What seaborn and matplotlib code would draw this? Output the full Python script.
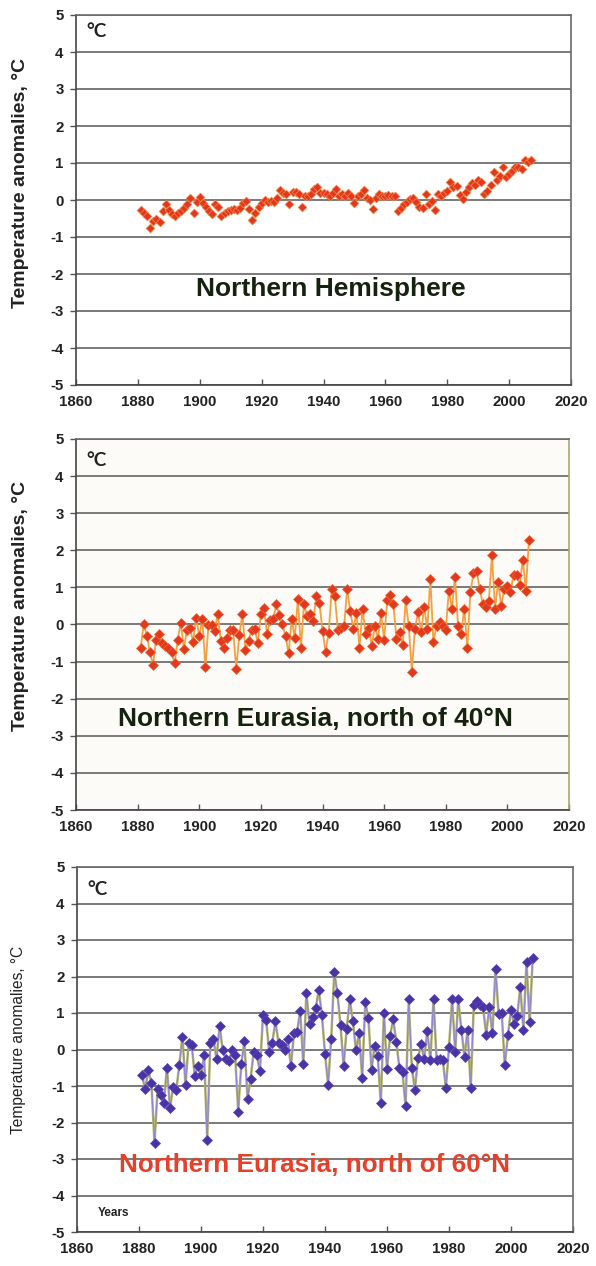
import matplotlib
matplotlib.use("Agg")
import matplotlib.pyplot as plt
import seaborn as sns
import pandas as pd

years = list(range(1881, 2008))

nh = [-0.27, -0.34, -0.42, -0.75, -0.56, -0.50, -0.60, -0.30, -0.12, -0.27,
      -0.38, -0.42, -0.36, -0.30, -0.22, -0.12, 0.05, -0.34, -0.05, 0.08,
      -0.08, -0.20, -0.30, -0.38, -0.12, -0.18, -0.42, -0.34, -0.30, -0.28,
      -0.24, -0.28, -0.22, -0.08, -0.03, -0.24, -0.54, -0.36, -0.18, -0.08,
      0.00, -0.06, -0.02, -0.05, 0.05, 0.28, 0.18, 0.15, -0.12, 0.22,
      0.22, 0.15, -0.20, 0.12, 0.10, 0.15, 0.30, 0.35, 0.20, 0.18,
      0.15, 0.12, 0.20, 0.30, 0.10, 0.15, 0.12, 0.18, 0.10, -0.08,
      0.10, 0.15, 0.28, 0.05, 0.00, -0.25, 0.05, 0.15, 0.12, 0.12,
      0.14, 0.12, 0.10, -0.30, -0.22, -0.10, -0.05, 0.02, 0.05, -0.05,
      -0.20, -0.22, 0.15, -0.10, -0.02, -0.27, 0.15, 0.10, 0.20, 0.25,
      0.48, 0.35, 0.38, 0.14, 0.02, 0.22, 0.35, 0.45, 0.40, 0.55,
      0.48, 0.15, 0.25, 0.40, 0.75, 0.55, 0.65, 0.90, 0.62, 0.70,
      0.78, 0.88, 0.90, 0.85, 1.08, 1.02, 1.08]

eur40 = [-0.62, 0.02, -0.32, -0.75, -1.09, -0.41, -0.25, -0.50, -0.59, -0.64,
         -0.75, -1.05, -0.41, 0.05, -0.65, -0.14, -0.09, -0.47, 0.18, -0.32,
         0.16, -1.15, -0.02, -0.02, -0.18, 0.29, -0.44, -0.64, -0.36, -0.16,
         -0.16, -1.20, -0.27, 0.27, -0.68, -0.44, -0.14, -0.12, -0.50, 0.29,
         0.44, -0.25, 0.11, 0.14, 0.55, 0.25, 0.00, -0.32, -0.77, 0.14,
         -0.36, 0.68, -0.62, 0.55, 0.23, 0.27, 0.09, 0.77, 0.59, -0.18,
         -0.73, -0.23, 0.96, 0.76, -0.15, -0.09, -0.05, 0.95, 0.36, -0.12,
         0.31, -0.62, 0.43, -0.25, -0.09, -0.57, -0.03, -0.39, 0.31, -0.42,
         0.65, 0.79, 0.55, -0.39, -0.21, -0.55, 0.65, -0.05, -1.27, -0.12,
         0.34, -0.21, 0.47, -0.12, 1.22, -0.48, -0.03, 0.06, -0.05, -0.15,
         0.91, 0.43, 1.29, -0.05, -0.25, 0.43, -0.62, 0.88, 1.38, 1.45,
         0.97, 0.56, 0.47, 0.64, 1.88, 0.43, 1.15, 0.49, 0.97, 1.04,
         0.88, 1.34, 1.34, 1.06, 1.75, 0.91, 2.29]

eur60 = [-0.71, -1.09, -0.57, -0.91, -2.56, -1.07, -1.24, -1.46, -0.50, -1.60,
         -1.03, -1.12, -0.43, 0.35, -0.96, 0.17, 0.12, -0.73, -0.45, -0.71,
         -0.16, -2.47, 0.19, 0.28, -0.25, 0.65, -0.02, -0.25, -0.32, -0.02,
         -0.14, -1.70, -0.41, 0.23, -1.35, -0.80, -0.06, -0.14, -0.60, 0.95,
         0.81, -0.06, 0.19, 0.77, 0.19, 0.12, -0.02, 0.28, -0.45, 0.44,
         0.49, 1.05, -0.41, 1.54, 0.69, 0.90, 1.13, 1.63, 0.94, -0.11,
         -0.96, 0.28, 2.12, 1.54, 0.67, -0.45, 0.57, 1.37, 0.77, -0.02,
         0.44, -0.77, 1.30, 0.86, -0.56, 0.10, -0.17, -1.47, 1.01, -0.54,
         0.37, 0.83, 0.21, -0.50, -0.63, -1.56, 1.37, -0.50, -1.11, -0.23,
         0.14, -0.26, 0.50, -0.29, 1.37, -0.29, -0.25, -0.29, -1.06, 0.07,
         1.37, -0.06, 1.37, 0.53, -0.20, 0.53, -1.06, 1.23, 1.32, 1.23,
         1.16, 0.41, 1.16, 0.44, 2.21, 0.98, 1.01, -0.43, 0.39, 1.07,
         0.71, 0.92, 1.71, 0.53, 2.39, 0.74, 2.50]

x_ticks = list(range(1860, 2021, 20))
y_ticks = list(range(-5, 6))
titles = ["Northern Hemisphere", "Northern Eurasia, north of 40°N",
          "Northern Eurasia, north of 60°N"]
ylabel = "Temperature anomalies, °C"

sns.set_style("white")
plt.rcParams['font.family'] = ['Liberation Sans', 'DejaVu Sans']

W, H = 596, 1266
fig = plt.figure(figsize=(W / 100, H / 100), dpi=100)


def make_ax(left, right, top, bottom, bg):
    ax = fig.add_axes([left / W, 1 - bottom / H, (right - left) / W, (bottom - top) / H])
    ax.set_facecolor(bg)
    return ax


ax1 = make_ax(76, 571, 15, 385, "white")
ax2 = make_ax(76, 569, 439, 810, "#FCFBF7")
ax3 = make_ax(77, 573, 867, 1232, "white")

df = pd.DataFrame({"year": years, "nh": nh, "e40": eur40, "e60": eur60})

# Panel 1: markers only
sns.scatterplot(data=df, x="year", y="nh", ax=ax1, marker="D", s=20,
                color="#E2381F", edgecolor="#F08A45", linewidth=0.5, zorder=3)

# Panel 2: line + markers
sns.lineplot(data=df, x="year", y="e40", ax=ax2, color="#F5A040", lw=1.3,
             marker="D", markersize=4.6, markerfacecolor="#E2381F",
             markeredgecolor="#EE6A30", markeredgewidth=0.5, zorder=3)

# Panel 3: line + markers
sns.lineplot(data=df, x="year", y="e60", ax=ax3, color="#B9B86A", lw=1.8, zorder=2)
sns.lineplot(data=df, x="year", y="e60", ax=ax3, color="#8E86D2", lw=0.8,
             marker="D", markersize=4.6, markerfacecolor="#4A33A6",
             markeredgecolor="#5A48B0", markeredgewidth=0.5, zorder=3)

label_pos = [(-0.095, 0.545), (-0.095, 0.55), (-0.103, 0.526)]

for i, ax in enumerate([ax1, ax2, ax3]):
    ax.set_xlim(1860, 2020)
    ax.set_ylim(-5, 5)
    ax.set_xticks(x_ticks)
    ax.set_yticks(y_ticks)
    ax.set_xticklabels([str(t) for t in x_ticks], fontsize=10.8, fontweight="bold", color="#222222")
    ax.set_yticklabels([str(t) for t in y_ticks], fontsize=10.8, fontweight="bold", color="#222222")
    ax.yaxis.grid(True, color="#7a7a7a", lw=1.4)
    ax.xaxis.grid(False)
    ax.set_axisbelow(True)
    ax.tick_params(axis="y", direction="out", length=4, width=1, color="#555555", pad=5, left=True)
    ax.tick_params(axis="x", direction="in", length=4, width=1, color="#555555", pad=7, bottom=True)
    for s in ax.spines.values():
        s.set_color("#6a6a6a")
        s.set_linewidth(1.2)
    ax.spines["left"].set_color("#444444")
    ax.spines["bottom"].set_color("#444444")
    ax.set_xlabel("")
    if i < 2:
        ax.set_ylabel(ylabel, fontsize=14, fontweight="bold", color="#222222")
    else:
        ax.set_ylabel(ylabel, fontsize=11.2, color="#222222")
    ax.yaxis.set_label_coords(*label_pos[i])

ax2.spines["right"].set_color("#A8A878")

for ax, yv in [(ax1, 4.55), (ax2, 4.43), (ax3, 4.37)]:
    ax.text(1863.3, yv, "°C", fontsize=13.5, fontweight="bold", color="#222222",
            family=["Lato", "DejaVu Sans"], va="center", ha="left")

ax1.text(1942.4, -2.4, titles[0], fontsize=19, fontweight="bold", color="#15220f",
         ha="center", va="center")
ax2.text(1937.6, -2.55, titles[1], fontsize=19, fontweight="bold", color="#15220f",
         ha="center", va="center")
ax3.text(1936.5, -3.16, titles[2], fontsize=18.8, fontweight="bold", color="#E5402A",
         ha="center", va="center")
ax3.text(1866.8, -4.48, "Years", fontsize=8.5, fontweight="bold", color="#222222",
         ha="left", va="center")

fig.savefig("out.png", dpi=100, facecolor="white")
